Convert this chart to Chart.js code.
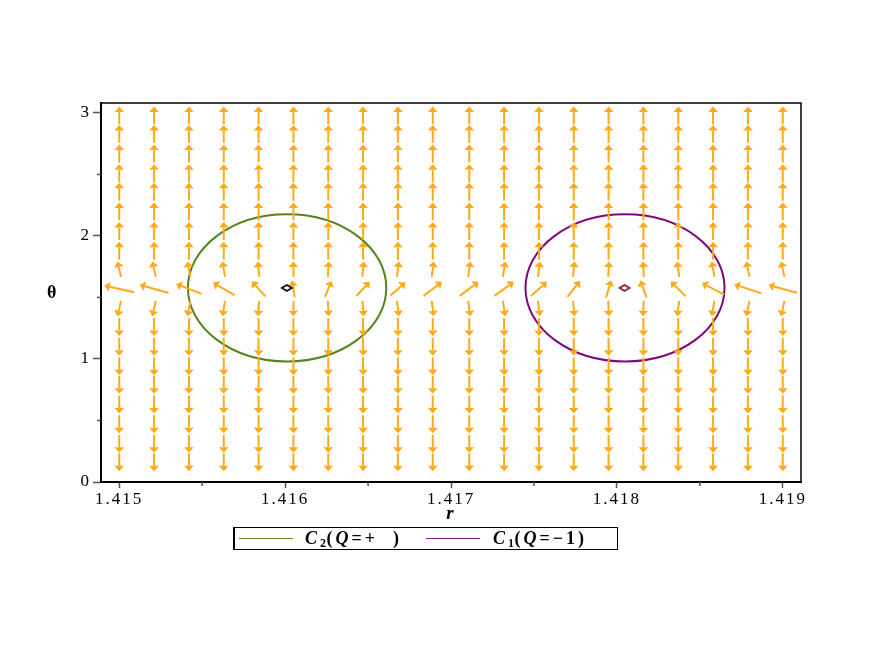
<!DOCTYPE html>
<html>
<head>
<meta charset="utf-8">
<script src="https://cdn.jsdelivr.net/npm/chart.js@4.4.1/dist/chart.umd.min.js"></script>
<style>
  html, body { margin: 0; padding: 0; background: #fff; }
  #wrap { position: relative; width: 872px; height: 654px; }
  #thetaLabel { position: absolute; left: 47px; top: 282px; font: bold 18px "Liberation Serif", serif; }
  #legend { position: absolute; left: 233px; top: 527px; width: 385px; height: 23px; box-sizing: border-box;
            border: 1px solid #000; border-left-width: 2px; font: bold italic 18px "Liberation Serif", serif; }
  #legend .sw { position: absolute; top: 10px; width: 54px; height: 0; border-top: 1.5px solid; }
  #legend .txt { position: absolute; top: 0px; letter-spacing: 3px; white-space: pre; }
  #legend .up { font-style: normal; }
  #legend sub { font-size: 12px; font-style: normal; vertical-align: -3px; letter-spacing: 0.5px; }
</style>
</head>
<body>
<div id="wrap">
  <canvas id="fieldChart" width="872" height="654"></canvas>
  <div id="thetaLabel">θ</div>
  <div id="legend">
    <span class="sw" style="left:4px; border-color:#5f8c1f"></span>
    <span class="txt" style="left:70px">C<sub>2</sub><span class="up">(</span>Q<span class="up">=+  )</span></span>
    <span class="sw" style="left:191px; border-color:#8a1a8a"></span>
    <span class="txt" style="left:258px">C<sub>1</sub><span class="up">(</span>Q<span class="up">=−1)</span></span>
  </div>
</div>
<script>
// axis ticks
const xTicks = [1.415, 1.416, 1.417, 1.418, 1.419];
const xMinorTicks = [1.4155, 1.4165, 1.4175, 1.4185];
const yTicks = [0, 1, 2, 3];
const yMinorTicks = [0.5, 1.5, 2.5];

// field grid
const rCols = [1.41500, 1.41521, 1.41542, 1.41563, 1.41584, 1.41605, 1.41626, 1.41647, 1.41668, 1.41689,
               1.41711, 1.41732, 1.41753, 1.41774, 1.41795, 1.41816, 1.41837, 1.41858, 1.41879, 1.41900];
const thetaRows = [0.16, 0.31, 0.47, 0.63, 0.79, 0.94, 1.10, 1.26, 1.41, 1.57,
                   1.73, 1.88, 2.04, 2.20, 2.36, 2.51, 2.67, 2.83, 2.98];
const midRow = 9; // theta = pi/2

// arrow components on the theta = pi/2 row
const midDr = [-0.000180, -0.000174, -0.000154, -0.000130, -0.000082, -0.000014, 0.000040, 0.000080, 0.000090, 0.000110,
               0.000114, 0.000116, 0.000096, 0.000076, 0.000030, -0.000036, -0.000090, -0.000134, -0.000164, -0.000170];
const midDth = [0.054, 0.067, 0.081, 0.102, 0.122, 0.136, 0.130, 0.116, 0.108, 0.114,
                0.114, 0.114, 0.116, 0.130, 0.138, 0.138, 0.122, 0.095, 0.073, 0.063];
// small r tilt on the rows next to it
const nearDr = [-0.000021, -0.000021, -0.000018, -0.000015, -0.000009, -0.000002, 0.000005, 0.000009, 0.000011, 0.000013,
                0.000013, 0.000014, 0.000011, 0.000009, 0.000004, -0.000004, -0.000011, -0.000016, -0.000019, -0.000020];
const nearDth = 0.125;
const farDth = 0.146;

// contours and critical points
const circleR = [1.416012, 1.418049];
const circleTheta = [1.578, 1.578];
const circleRadR = [0.000598, 0.000600];
const circleRadTheta = [0.598, 0.598];
const circleColors = ["#58821a", "#7d0a7d"];
const diamondR = [1.41601, 1.418046];
const diamondTheta = [1.578, 1.578];
const diamondColors = ["#000000", "#7a1020"];

const arrowColor = "#ffaa1a";

function diamondImage(color) {
  const c = document.createElement("canvas");
  c.width = 14; c.height = 10;
  const g = c.getContext("2d");
  g.strokeStyle = color;
  g.lineWidth = 1.6;
  g.beginPath();
  g.moveTo(2, 5); g.lineTo(7, 2); g.lineTo(12, 5); g.lineTo(7, 8);
  g.closePath();
  g.stroke();
  return c;
}

function drawArrow(ctx, x0, y0, x1, y1) {
  const ang = Math.atan2(y1 - y0, x1 - x0);
  const headLen = 5.5, half = 4.8;
  const bx = x1 - headLen * Math.cos(ang), by = y1 - headLen * Math.sin(ang);
  ctx.beginPath();
  ctx.moveTo(x0, y0);
  ctx.lineTo(bx, by);
  ctx.stroke();
  ctx.beginPath();
  ctx.moveTo(x1, y1);
  ctx.lineTo(bx + half * Math.sin(ang), by - half * Math.cos(ang));
  ctx.lineTo(bx - half * Math.sin(ang), by + half * Math.cos(ang));
  ctx.closePath();
  ctx.fill();
}

const fieldPlugin = {
  id: "fieldPlugin",
  beforeDraw(chart) {
    chart.ctx.letterSpacing = "2px";
  },
  beforeDatasetsDraw(chart) {
    const ctx = chart.ctx;
    const xs = chart.scales.x, ys = chart.scales.y;
    ctx.save();
    // contours
    circleR.forEach((r, k) => {
      const cx = xs.getPixelForValue(r), cy = ys.getPixelForValue(circleTheta[k]);
      const rx = xs.getPixelForValue(r + circleRadR[k]) - cx;
      const ry = cy - ys.getPixelForValue(circleTheta[k] + circleRadTheta[k]);
      ctx.strokeStyle = circleColors[k];
      ctx.lineWidth = 2;
      ctx.beginPath();
      ctx.ellipse(cx, cy, rx, ry, 0, 0, Math.PI * 2);
      ctx.stroke();
    });
    // direction field
    ctx.strokeStyle = arrowColor;
    ctx.fillStyle = arrowColor;
    ctx.lineWidth = 2;
    thetaRows.forEach((th, i) => {
      rCols.forEach((r, j) => {
        let dr = 0, dth;
        if (i === midRow) { dr = midDr[j]; dth = midDth[j]; }
        else if (Math.abs(i - midRow) === 1) { dr = nearDr[j]; dth = i > midRow ? nearDth : -nearDth; }
        else { dth = i > midRow ? farDth : -farDth; }
        drawArrow(ctx,
          xs.getPixelForValue(r - dr / 2), ys.getPixelForValue(th - dth / 2),
          xs.getPixelForValue(r + dr / 2), ys.getPixelForValue(th + dth / 2));
      });
    });
    ctx.restore();
  },
  afterDraw(chart) {
    const ctx = chart.ctx;
    const a = chart.chartArea;
    const xs = chart.scales.x, ys = chart.scales.y;
    ctx.save();
    // top and right frame
    ctx.strokeStyle = "#000";
    ctx.lineWidth = 1.5;
    ctx.beginPath();
    ctx.moveTo(a.left, a.top);
    ctx.lineTo(a.right, a.top);
    ctx.lineTo(a.right, a.bottom);
    ctx.stroke();
    // minor ticks
    ctx.strokeStyle = "#555";
    ctx.lineWidth = 1.5;
    xMinorTicks.forEach(v => {
      const px = xs.getPixelForValue(v);
      ctx.beginPath(); ctx.moveTo(px, a.bottom); ctx.lineTo(px, a.bottom + 4); ctx.stroke();
    });
    yMinorTicks.forEach(v => {
      const py = ys.getPixelForValue(v);
      ctx.beginPath(); ctx.moveTo(a.left, py); ctx.lineTo(a.left - 4, py); ctx.stroke();
    });
    ctx.restore();
  }
};

new Chart(document.getElementById("fieldChart"), {
  type: "scatter",
  data: {
    datasets: [{
      data: diamondR.map((r, k) => ({ x: r, y: diamondTheta[k] })),
      pointStyle: diamondColors.map(diamondImage),
      pointRadius: 5
    }]
  },
  options: {
    responsive: false,
    animation: false,
    events: [],
    layout: { padding: { left: 0, right: 71, top: 103, bottom: 129 } },
    plugins: { legend: { display: false }, tooltip: { enabled: false } },
    scales: {
      x: {
        type: "linear",
        min: 1.41489,
        max: 1.41911,
        afterBuildTicks: s => { s.ticks = xTicks.map(v => ({ value: v })); },
        afterFit: s => { s.height = 43; },
        ticks: {
          color: "#000",
          padding: 1,
          maxRotation: 0,
          font: { family: "Liberation Serif", size: 17 },
          callback: v => v.toFixed(3)
        },
        grid: { drawOnChartArea: false, tickLength: 6, tickColor: "#555", tickWidth: 1.5 },
        border: { color: "#000", width: 2 },
        title: {
          display: true,
          text: "r",
          color: "#000",
          padding: 0,
          font: { family: "Liberation Serif", size: 19, weight: "bold", style: "italic" }
        }
      },
      y: {
        type: "linear",
        min: 0,
        max: 3.081,
        afterBuildTicks: s => { s.ticks = yTicks.map(v => ({ value: v })); },
        afterFit: s => { s.width = 101; },
        ticks: {
          color: "#000",
          padding: 2,
          font: { family: "Liberation Serif", size: 17 },
          callback: v => String(v)
        },
        grid: { drawOnChartArea: false, tickLength: 8, tickColor: "#555", tickWidth: 1.5 },
        border: { color: "#000", width: 2 }
      }
    }
  },
  plugins: [fieldPlugin]
});
</script>
</body>
</html>
